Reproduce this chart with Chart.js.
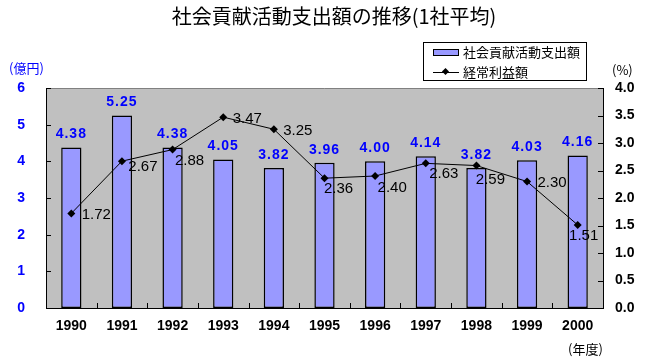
<!DOCTYPE html>
<html><head><meta charset="utf-8">
<script src="https://cdn.jsdelivr.net/npm/chart.js@4"></script>
<style>
body{margin:0;background:#fff;}
#wrap{position:relative;width:650px;height:360px;overflow:hidden;}
canvas{position:absolute;left:0;top:0;}
.t{position:absolute;white-space:nowrap;font-family:"Noto Sans CJK JP",sans-serif;color:#000;}
</style></head><body>
<div id="wrap">
<canvas id="c" width="650" height="360"></canvas>
<div class="t" style="left:0;width:668px;top:4px;text-align:center;font-size:20px;line-height:24px;">社会貢献活動支出額の推移(1社平均)</div>
<div class="t" style="left:9px;top:59px;font-size:13px;line-height:18px;color:#0000FF;">(億円)</div>
<div class="t" style="left:612px;top:61px;font-size:13px;line-height:18px;">(%)</div>
<div class="t" style="left:568px;top:340px;font-size:13px;line-height:18px;">(年度)</div>
<div style="position:absolute;left:423px;top:42px;width:164px;height:39px;box-sizing:border-box;border:1px solid #000;background:#fff;">
  <div style="position:absolute;left:9px;top:6px;width:26px;height:7px;box-sizing:border-box;border:1px solid #000;background:#9999FF;"></div>
  <div class="t" style="left:39px;top:0px;font-size:13px;line-height:18px;">社会貢献活動支出額</div>
  <div style="position:absolute;left:9px;top:29px;width:26px;height:1px;background:#000;"></div>
  <div style="position:absolute;left:19px;top:26px;width:5px;height:5px;background:#000;transform:rotate(45deg);"></div>
  <div class="t" style="left:39px;top:20px;font-size:13px;line-height:18px;">経常利益額</div>
</div>
</div>
<script>
const categories = ['1990','1991','1992','1993','1994','1995','1996','1997','1998','1999','2000'];
const spending = [4.38, 5.25, 4.38, 4.05, 3.82, 3.96, 4.00, 4.14, 3.82, 4.03, 4.16];
const profitRate = [1.72, 2.67, 2.88, 3.47, 3.25, 2.36, 2.40, 2.63, 2.59, 2.30, 1.51];
const seriesNames = ['社会貢献活動支出額', '経常利益額'];
// label placement offsets (style only), relative to each point
const lineLabelOffsets = [[25,1],[21,6],[17,11],[24,2],[24,2],[14,11],[17,12],[18,11],[14,14],[25,1],[6,11]];

Chart.defaults.font.family = '"Liberation Sans", Arial, sans-serif';

const decor = {
  id: 'decor',
  beforeDatasetsDraw(chart) {
    const {ctx, chartArea: a} = chart;
    ctx.save();
    ctx.fillStyle = '#C0C0C0';
    ctx.fillRect(a.left, a.top, a.right - a.left, a.bottom - a.top);
    ctx.restore();
  },
  afterDatasetsDraw(chart) {
    const {ctx, chartArea: a, scales} = chart;
    ctx.save();
    ctx.lineWidth = 1;
    ctx.strokeStyle = '#808080';
    ctx.beginPath(); ctx.moveTo(a.left, Math.round(a.top) + 0.5); ctx.lineTo(a.right, Math.round(a.top) + 0.5); ctx.stroke();
    ctx.strokeStyle = '#000';
    ctx.beginPath();
    ctx.moveTo(Math.round(a.left) + 0.5, a.top); ctx.lineTo(Math.round(a.left) + 0.5, a.bottom + 1);
    ctx.moveTo(Math.round(a.right) + 0.5, a.top); ctx.lineTo(Math.round(a.right) + 0.5, a.bottom + 1);
    ctx.moveTo(a.left, Math.round(a.bottom) + 0.5); ctx.lineTo(a.right + 1, Math.round(a.bottom) + 0.5);
    ctx.stroke();
    ctx.beginPath();
    scales.y.ticks.forEach(t => { const y = Math.round(scales.y.getPixelForValue(t.value)) + 0.5; ctx.moveTo(a.left, y); ctx.lineTo(a.left + 5, y); });
    scales.y2.ticks.forEach(t => { const y = Math.round(scales.y2.getPixelForValue(t.value)) + 0.5; ctx.moveTo(a.right, y); ctx.lineTo(a.right - 5, y); });
    for (let i = 1; i < categories.length; i++) {
      const x = Math.round((scales.x.getPixelForValue(i - 1) + scales.x.getPixelForValue(i)) / 2) + 0.5;
      ctx.moveTo(x, a.bottom); ctx.lineTo(x, a.bottom - 5);
    }
    ctx.stroke();
    ctx.textAlign = 'center';
    ctx.textBaseline = 'middle';
    ctx.fillStyle = '#0000FF';
    ctx.font = 'bold 14px "Liberation Sans", Arial, sans-serif';
    try { ctx.letterSpacing = '1px'; } catch (e) {}
    chart.getDatasetMeta(0).data.forEach((el, i) => {
      ctx.fillText(spending[i].toFixed(2), el.x, el.y - 13);
    });
    try { ctx.letterSpacing = '0px'; } catch (e) {}
    ctx.fillStyle = '#000';
    ctx.font = '15px "Liberation Sans", Arial, sans-serif';
    chart.getDatasetMeta(1).data.forEach((el, i) => {
      const o = lineLabelOffsets[i];
      ctx.fillText(profitRate[i].toFixed(2), el.x + o[0], el.y + o[1]);
    });
    ctx.restore();
  }
};

new Chart(document.getElementById('c'), {
  data: {
    labels: categories,
    datasets: [
      { type: 'bar', label: seriesNames[0], data: spending, yAxisID: 'y', order: 1,
        backgroundColor: '#9999FF', borderColor: '#000', borderWidth: 1.5, borderSkipped: false,
        barPercentage: 0.4, categoryPercentage: 1.0 },
      { type: 'line', label: seriesNames[1], data: profitRate, yAxisID: 'y2', order: 0,
        borderColor: '#000', borderWidth: 1, backgroundColor: '#000',
        pointStyle: 'rectRot', pointRadius: 4, pointBackgroundColor: '#000', pointBorderWidth: 0,
        tension: 0, fill: false }
    ]
  },
  options: {
    responsive: false,
    animation: false,
    layout: { padding: { top: 88, left: 0, right: 0, bottom: 0 } },
    plugins: { legend: { display: false }, tooltip: { enabled: false }, title: { display: false } },
    scales: {
      x: {
        offset: true,
        grid: { display: false, drawTicks: false },
        border: { display: false },
        ticks: { color: '#000', font: { size: 14, weight: 'bold' }, padding: 10, maxRotation: 0, autoSkip: false },
        afterFit(s) { s.height = 52; }
      },
      y: {
        position: 'left', min: 0, max: 6,
        grid: { display: false, drawTicks: false },
        border: { display: false },
        ticks: { stepSize: 1, color: '#0000FF', font: { size: 14, weight: 'bold' }, padding: 21 },
        afterFit(s) { s.width = 46; }
      },
      y2: {
        position: 'right', min: 0, max: 4,
        grid: { display: false, drawTicks: false },
        border: { display: false },
        ticks: { stepSize: 0.5, color: '#000', font: { size: 14, weight: 'bold' }, padding: 12,
                 callback: v => Number(v).toFixed(1) },
        afterFit(s) { s.width = 47; }
      }
    }
  },
  plugins: [decor]
});
</script>
</body></html>
